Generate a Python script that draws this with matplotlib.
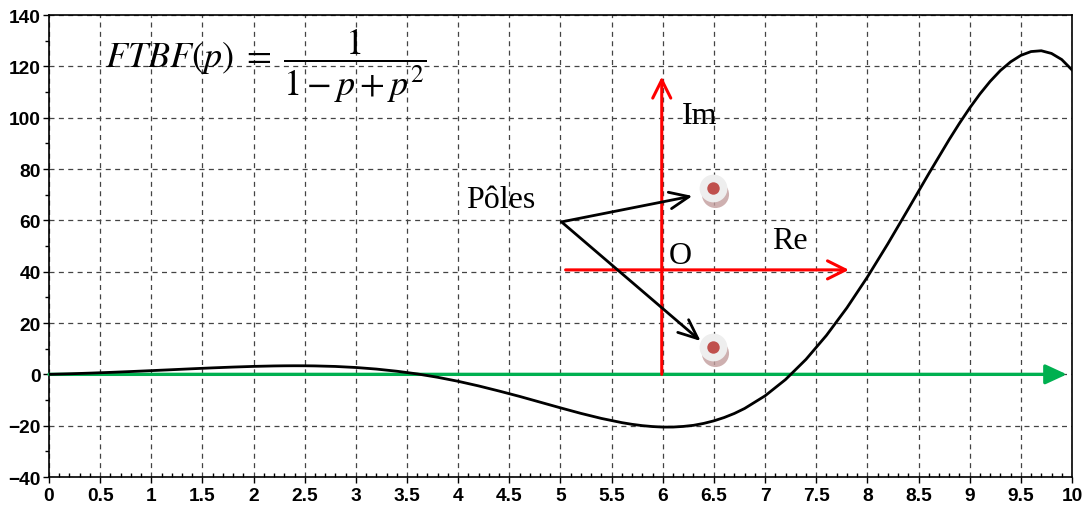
import matplotlib
matplotlib.use('Agg')
import matplotlib.pyplot as plt
from matplotlib.ticker import MultipleLocator

# impulse response of the closed loop (finer sampling around the extrema)
t = [0.0, 0.2, 0.4, 0.6, 0.8, 1.0, 1.2, 1.4, 1.6, 1.8,
     2.0, 2.2, 2.3, 2.4, 2.5, 2.6, 2.8, 3.0, 3.2, 3.4, 3.6, 3.8,
     4.0, 4.2, 4.4, 4.6, 4.8, 5.0, 5.2, 5.4, 5.6, 5.7, 5.8, 5.9,
     6.0, 6.1, 6.2, 6.3, 6.4, 6.5, 6.6, 6.7, 6.8, 7.0, 7.2, 7.4, 7.6, 7.8,
     8.0, 8.2, 8.4, 8.6, 8.8, 8.9, 9.0, 9.1, 9.2, 9.3, 9.4, 9.5, 9.6, 9.7,
     9.8, 9.9, 10.0]
h = [0.0, 0.22, 0.48, 0.77, 1.10, 1.45, 1.81, 2.18, 2.53, 2.84,
     3.10, 3.28, 3.33, 3.35, 3.34, 3.29, 3.08, 2.67, 2.06, 1.22, 0.17, -1.15,
     -2.71, -4.51, -6.50, -8.59, -10.82, -13.05, -15.21, -17.17, -18.81, -19.47, -19.98, -20.34,
     -20.54, -20.53, -20.29, -19.86, -19.11, -18.11, -16.82, -15.23, -13.29, -8.36, -2.02, 5.84, 15.19, 25.93,
     37.90, 50.86, 64.44, 78.17, 91.49, 97.81, 103.75, 109.23, 114.14, 118.36, 121.74, 124.27, 125.76, 126.08,
     125.03, 122.65, 118.62]

# pole markers on the sketch of the complex plane
pole_x = [6.49, 6.49]
pole_y = [72.6, 10.7]

xticks = [0, 0.5, 1, 1.5, 2, 2.5, 3, 3.5, 4, 4.5, 5, 5.5, 6, 6.5, 7, 7.5, 8, 8.5, 9, 9.5, 10]
xtick_labels = ['0', '0.5', '1', '1.5', '2', '2.5', '3', '3.5', '4', '4.5', '5',
                '5.5', '6', '6.5', '7', '7.5', '8', '8.5', '9', '9.5', '10']
yticks = [-40, -20, 0, 20, 40, 60, 80, 100, 120, 140]

plt.rcParams['mathtext.fontset'] = 'stix'

fig = plt.figure(figsize=(10.84, 5.10), dpi=100)
ax = fig.add_axes([0.0452, 0.0627, 0.9437, 0.9059])
ax.set_facecolor('white')

ax.set_xlim(0, 10)
ax.set_ylim(-40, 140)
ax.set_xticks(xticks)
ax.set_xticklabels(xtick_labels)
ax.set_yticks(yticks)
ax.xaxis.set_minor_locator(MultipleLocator(0.1))
ax.yaxis.set_minor_locator(MultipleLocator(10))
ax.tick_params(which='major', direction='out', length=4, width=1, labelsize=13.8)
ax.tick_params(axis='x', which='minor', direction='in', length=3, width=1)
ax.tick_params(axis='y', which='minor', direction='out', length=3, width=1)
ax.tick_params(axis='x', pad=3)
ax.tick_params(axis='y', pad=2)
for lab in ax.get_xticklabels() + ax.get_yticklabels():
    lab.set_family('Liberation Sans')
    lab.set_fontweight('bold')

ax.grid(True, which='major', linestyle=(0, (4, 3.5)), color='#444444', linewidth=0.9)
ax.set_axisbelow(True)
for s in ax.spines.values():
    s.set_linewidth(1.2)
    s.set_color('black')

# time axis arrow
ax.annotate('', xy=(9.95, 0), xytext=(0, 0),
            arrowprops=dict(arrowstyle='-|>,head_length=1.3,head_width=0.6',
                            color='#00b050', lw=2.4, shrinkA=0, shrinkB=0),
            zorder=3)

# response curve
ax.plot(t, h, color='black', linewidth=2.0, zorder=4)

# complex plane sketch
ax.annotate('', xy=(5.99, 116), xytext=(5.99, 0),
            arrowprops=dict(arrowstyle='->,head_length=1.3,head_width=0.65',
                            color='red', lw=2.2, shrinkA=0, shrinkB=0), zorder=5)
ax.annotate('', xy=(7.82, 40.7), xytext=(5.05, 40.7),
            arrowprops=dict(arrowstyle='->,head_length=1.3,head_width=0.65',
                            color='red', lw=2.2, shrinkA=0, shrinkB=0), zorder=5)

serif = dict(family='Liberation Serif', fontsize=23, color='black')
ax.text(6.19, 101, 'Im', ha='left', va='center', **serif)
ax.text(6.06, 46.5, 'O', ha='left', va='center', **serif)
ax.text(7.07, 52.3, 'Re', ha='left', va='center', **serif)
ax.text(4.08, 68, 'Pôles', ha='left', va='center', **serif)

for xe, ye in [(6.29, 69.5), (6.37, 13)]:
    ax.annotate('', xy=(xe, ye), xytext=(5.01, 59.4),
                arrowprops=dict(arrowstyle='->,head_length=1.4,head_width=0.6',
                                color='black', lw=2.0, shrinkA=0, shrinkB=0),
                zorder=6)

# pole symbols: faint shadow, disc, red dot
ax.scatter([x + 0.025 for x in pole_x], [y - 2.4 for y in pole_y], s=380,
           color='#c29c9c', alpha=0.8, linewidths=0, zorder=7)
ax.scatter(pole_x, pole_y, s=400, color='#eeeeee', linewidths=0, zorder=8)
ax.scatter(pole_x, pole_y, s=80, color='#c0504d', linewidths=0, zorder=9)

# transfer function
ax.text(0.55, 120.5, r'$FTBF(p)\;=\;\dfrac{1}{1-p+p^2}$', ha='left', va='center',
        fontsize=26, color='black', zorder=6)

fig.savefig('out.png', dpi=100, facecolor='white')
